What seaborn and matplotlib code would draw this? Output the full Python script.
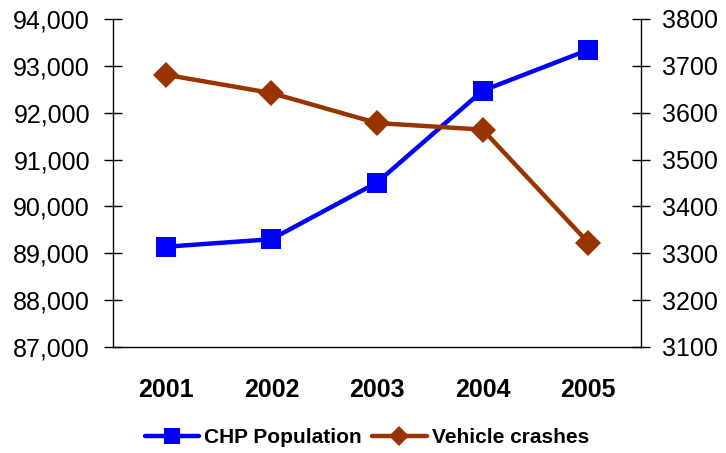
import matplotlib
matplotlib.use("Agg")
import matplotlib.pyplot as plt
import seaborn as sns
import pandas as pd
from matplotlib.ticker import FuncFormatter, FixedLocator

sns.set_style("white")
plt.rcParams['font.family'] = ['Liberation Sans', 'DejaVu Sans']
plt.rcParams['text.color'] = 'black'
plt.rcParams['xtick.color'] = 'black'
plt.rcParams['ytick.color'] = 'black'

# Data
years = ['2001', '2002', '2003', '2004', '2005']
chp_population = [89140, 89300, 90510, 92470, 93340]
vehicle_crashes = [3681, 3642, 3578, 3564, 3323]

df = pd.DataFrame({'x': range(len(years)), 'pop': chp_population, 'crash': vehicle_crashes})

fig = plt.figure(figsize=(7.26, 4.53), dpi=100)
ax = fig.add_axes([113 / 726, 1 - 347 / 453, (641 - 113) / 726, (347 - 19) / 453])
ax2 = ax.twinx()

blue = '#0000FF'
brown = '#993300'

sns.lineplot(data=df, x='x', y='pop', ax=ax, color=blue, linewidth=3.2,
             marker='s', markersize=15, markeredgewidth=0, label='CHP Population', legend=False)
sns.lineplot(data=df, x='x', y='crash', ax=ax2, color=brown, linewidth=3.2,
             marker='D', markersize=13, markeredgewidth=0, label='Vehicle crashes', legend=False)

ax.set_ylim(87000, 94000)
ax2.set_ylim(3100, 3800)
ax.set_xlim(-0.5, 4.5)
ax.set_yticks(range(87000, 94001, 1000))
ax2.set_yticks(range(3100, 3801, 100))
ax.yaxis.set_major_formatter(FuncFormatter(lambda v, p: f'{int(v):,}'))
ax.set_xlabel('')
ax.set_ylabel('')
ax2.set_ylabel('')

# category labels between boundary ticks
ax.xaxis.set_major_locator(FixedLocator([i - 0.5 for i in range(len(years) + 1)]))
ax.set_xticklabels([''] * (len(years) + 1))
ax.xaxis.set_minor_locator(FixedLocator(list(range(len(years)))))
ax.set_xticklabels(years, minor=True, fontweight='bold', fontsize=18)
ax.tick_params(axis='x', which='major', direction='out', length=8, width=1, color='#444444')
ax.tick_params(axis='x', which='minor', length=0, pad=22)

ax.tick_params(axis='y', direction='inout', length=13, width=1, labelsize=18, pad=10, color='black')
ax2.tick_params(axis='y', direction='inout', length=13, width=1, labelsize=18, pad=8.5, color='black')

for a in (ax, ax2):
    a.spines['top'].set_visible(False)
    for s in ('left', 'right', 'bottom'):
        a.spines[s].set_color('black')
        a.spines[s].set_linewidth(1)
ax.spines['right'].set_visible(False)
ax2.spines['left'].set_visible(False)
ax2.spines['bottom'].set_visible(False)
ax.grid(False)
ax2.grid(False)

h1, l1 = ax.get_legend_handles_labels()
h2, l2 = ax2.get_legend_handles_labels()
fig.legend(h1 + h2, l1 + l2, loc='center', bbox_to_anchor=(367 / 726, 1 - 437.5 / 453),
           ncol=2, frameon=False, prop={'weight': 'bold', 'size': 15},
           handlelength=2.6, handletextpad=0.25, columnspacing=0.5, markerscale=0.75)

fig.savefig('out.png', dpi=100)
